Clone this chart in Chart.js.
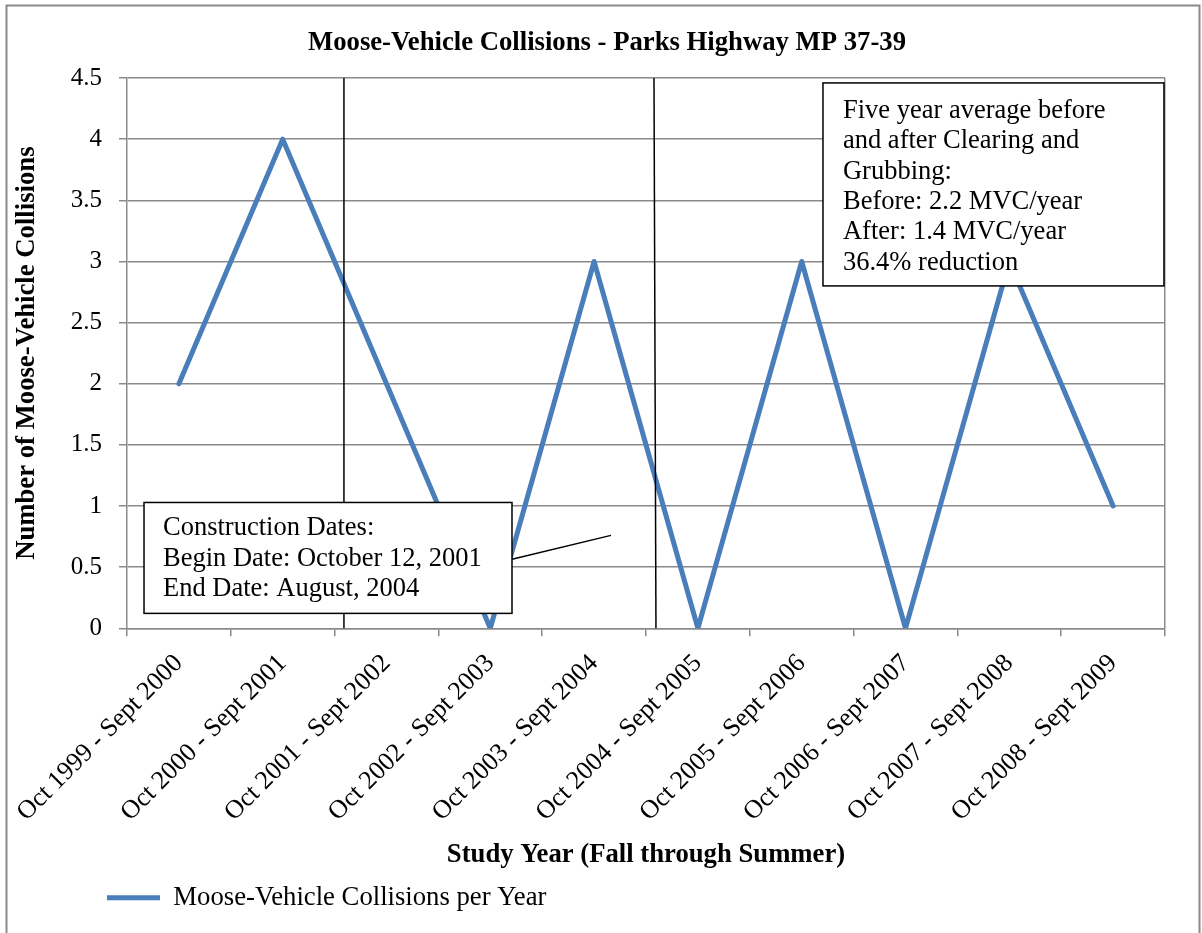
<!DOCTYPE html>
<html>
<head>
<meta charset="utf-8">
<script src="https://cdn.jsdelivr.net/npm/chart.js@4.4.1/dist/chart.umd.min.js"></script>
<style>
  html, body { margin: 0; padding: 0; background: #ffffff; }
  #chart { display: block; }
</style>
</head>
<body>
<canvas id="chart" width="1202" height="933"></canvas>
<script>
// Data
const studyYears = [
    'Oct 1999 - Sept 2000',
    'Oct 2000 - Sept 2001',
    'Oct 2001 - Sept 2002',
    'Oct 2002 - Sept 2003',
    'Oct 2003 - Sept 2004',
    'Oct 2004 - Sept 2005',
    'Oct 2005 - Sept 2006',
    'Oct 2006 - Sept 2007',
    'Oct 2007 - Sept 2008',
    'Oct 2008 - Sept 2009'
];
const collisions = [2, 4, 2, 0, 3, 0, 3, 0, 3, 1];
const yTickLabels = ['0', '0.5', '1', '1.5', '2', '2.5', '3', '3.5', '4', '4.5'];

const constructionNote = [
    'Construction Dates:',
    'Begin Date: October 12, 2001',
    'End Date: August, 2004'
];
const averageNote = [
    'Five year average before',
    'and after Clearing and',
    'Grubbing:',
    'Before: 2.2 MVC/year',
    'After: 1.4 MVC/year',
    '36.4% reduction'
];

const FONT = 'Liberation Serif';
const TEXT_SIZE = 26.7;
const GRAY = '#8a8a8a';
const BLUE = '#4a7ebb';

// Annotations drawn on top of the chart (x in category index, y in axis units)
const notesPlugin = {
    id: 'notes',
    beforeDraw(chart) {
        const ctx = chart.ctx;
        ctx.save();
        ctx.fillStyle = '#ffffff';
        ctx.fillRect(0, 0, chart.width, chart.height);
        ctx.strokeStyle = GRAY;
        ctx.lineWidth = 2;
        ctx.strokeRect(6.5, 5.5, 1193, 960);
        ctx.restore();
    },
    afterLayout(chart) {
        // legend sits left, under the y axis area; title centred on the page
        const lg = chart.legend;
        lg.left += 97;
        lg.right += 97;
        const tb = chart.titleBlock;
        tb.left += 24.5;
        tb.right += 24.5;
    },
    afterDatasetsDraw(chart) {
        const { ctx, scales: { x, y } } = chart;
        ctx.save();

        // construction begin / end markers
        ctx.strokeStyle = '#000000';
        ctx.lineWidth = 1.5;
        [[1.59, 1.59], [4.577, 4.596]].forEach(([top, bottom]) => {
            ctx.beginPath();
            ctx.moveTo(x.getPixelForValue(top), y.getPixelForValue(4.5));
            ctx.lineTo(x.getPixelForValue(bottom), y.getPixelForValue(0));
            ctx.stroke();
        });

        // connector from the construction box
        ctx.beginPath();
        ctx.moveTo(x.getPixelForValue(3.209), y.getPixelForValue(0.564));
        ctx.lineTo(x.getPixelForValue(4.163), y.getPixelForValue(0.76));
        ctx.stroke();

        drawNote(ctx, x, y, { x0: -0.336, x1: 3.209, y0: 1.029, y1: 0.122 }, constructionNote, 19, 26);
        drawNote(ctx, x, y, { x0: 6.205, x1: 9.49, y0: 4.46, y1: 2.80 }, averageNote, 20, 28);

        ctx.restore();
    }
};

function drawNote(ctx, x, y, box, lines, inset, firstLine) {
    const left = x.getPixelForValue(box.x0);
    const right = x.getPixelForValue(box.x1);
    const top = y.getPixelForValue(box.y0);
    const bottom = y.getPixelForValue(box.y1);
    ctx.fillStyle = '#ffffff';
    ctx.fillRect(left, top, right - left, bottom - top);
    ctx.strokeStyle = '#000000';
    ctx.lineWidth = 1.5;
    ctx.strokeRect(left, top, right - left, bottom - top);
    ctx.fillStyle = '#000000';
    ctx.font = '26.5px "' + FONT + '"';
    ctx.textAlign = 'left';
    ctx.textBaseline = 'middle';
    lines.forEach((line, i) => {
        ctx.fillText(line, left + inset, top + firstLine + i * 30.4);
    });
}

const chart = new Chart(document.getElementById('chart').getContext('2d'), {
    type: 'line',
    data: {
        labels: studyYears,
        datasets: [{
            label: 'Moose-Vehicle Collisions per Year',
            data: collisions,
            borderColor: BLUE,
            backgroundColor: BLUE,
            borderWidth: 5,
            borderCapStyle: 'round',
            borderJoinStyle: 'round',
            pointRadius: 0,
            tension: 0,
            fill: false
        }]
    },
    options: {
        responsive: false,
        animation: false,
        layout: {
            padding: { left: 0, right: 37, top: 0, bottom: 12 }
        },
        plugins: {
            title: {
                display: true,
                text: 'Moose-Vehicle Collisions - Parks Highway MP 37-39',
                color: '#000000',
                font: { family: FONT, size: TEXT_SIZE, weight: 'bold' },
                padding: { top: 27, bottom: 19 }
            },
            legend: {
                position: 'bottom',
                align: 'start',
                labels: {
                    usePointStyle: true,
                    pointStyle: 'line',
                    pointStyleWidth: 53,
                    padding: 10,
                    color: '#000000',
                    font: { family: FONT, size: TEXT_SIZE }
                }
            },
            tooltip: { enabled: false }
        },
        scales: {
            x: {
                offset: true,
                grid: {
                    offset: true,
                    drawOnChartArea: true,
                    // only the closing right edge of the plot is drawn inside
                    color: ctx => ctx.type === 'tick' ? 'rgba(0,0,0,0)' : GRAY,
                    tickColor: GRAY,
                    tickLength: 8,
                    lineWidth: 1.5
                },
                border: { color: GRAY, width: 1.5 },
                ticks: {
                    minRotation: 45,
                    maxRotation: 45,
                    autoSkip: false,
                    padding: 12,
                    color: '#000000',
                    font: { family: FONT, size: 26 }
                },
                title: {
                    display: true,
                    text: 'Study Year (Fall through Summer)',
                    color: '#000000',
                    font: { family: FONT, size: TEXT_SIZE, weight: 'bold' },
                    padding: { top: 0, bottom: 3 }
                },
                afterFit(scale) {
                    scale.height = 246;
                }
            },
            y: {
                min: 0,
                max: 4.5,
                ticks: {
                    stepSize: 0.5,
                    padding: 17,
                    color: '#000000',
                    font: { family: FONT, size: 25 },
                    callback: (value, index) => yTickLabels[index]
                },
                grid: {
                    color: GRAY,
                    tickColor: GRAY,
                    tickLength: 8,
                    lineWidth: 1.5
                },
                border: { color: GRAY, width: 1.5 },
                title: {
                    display: true,
                    text: 'Number of Moose-Vehicle Collisions',
                    color: '#000000',
                    font: { family: FONT, size: TEXT_SIZE, weight: 'bold' },
                    padding: { top: 11, bottom: 0 }
                },
                afterFit(scale) {
                    scale.width = 127;
                }
            }
        }
    },
    plugins: [notesPlugin]
});
</script>
</body>
</html>
